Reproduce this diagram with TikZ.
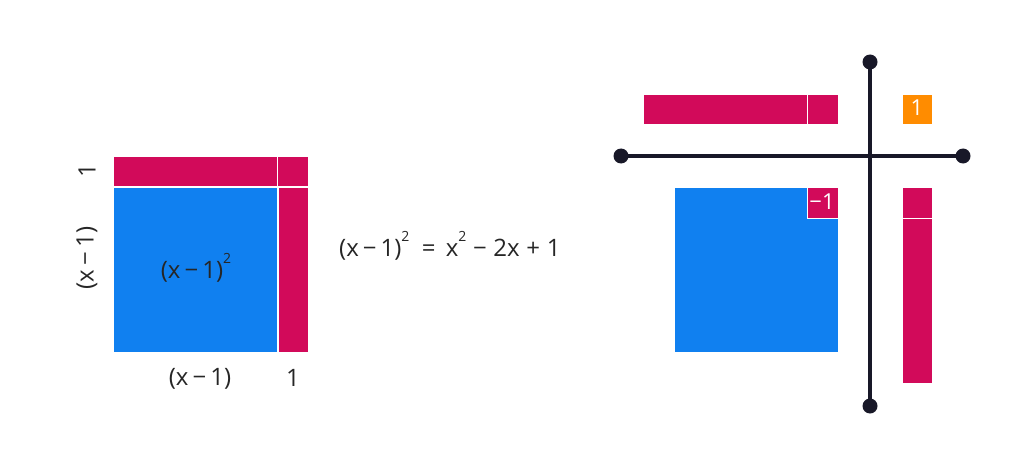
\documentclass[tikz,border=0pt]{standalone}
\usepackage{fontspec}
\setmainfont{Open Sans}
\definecolor{crim}{HTML}{D20A5A}
\definecolor{sky}{HTML}{1080F0}
\definecolor{orng}{HTML}{FF8C00}
\definecolor{ink}{HTML}{181828}
\newcommand{\sqr}{\raisebox{0.6em}{\fontsize{14}{14}\selectfont 2}}
\begin{document}
\begin{tikzpicture}[x=1pt,y=-1pt,
  redbox/.style={fill=crim,draw=white,line width=0.8pt},
  bluebox/.style={fill=sky,draw=white,line width=0.8pt},
  orangebox/.style={fill=orng,draw=white,line width=0.8pt},
  lbl/.style={font=\fontsize{24}{24}\selectfont,text=black!85,inner sep=0pt},
  small/.style={font=\fontsize{22}{22}\selectfont,text=white,inner sep=0pt},
  axis/.style={draw=ink,line width=3.6pt},
  dot/.style={circle,fill=ink,inner sep=0pt,minimum size=15pt}]
\useasboundingbox (0,0) rectangle (1025,468);
% left diagram
\draw[redbox] (113,156) rectangle (277,186);
\draw[redbox] (277,156) rectangle (308,186);
\draw[bluebox] (113,187) rectangle (277,352);
\draw[redbox] (278,187) rectangle (308,352);
\node[lbl,rotate=90] (l1) at (87,171) {1};
\node[lbl,rotate=90] (lx) at (87,258) {(x\,−\,1)};
\node[lbl] (sq) at (196,268) {(x\,−\,1)\sqr};
\node[lbl] (bx) at (200,379) {(x\,−\,1)};
\node[lbl] (b1) at (293,378) {1};
% equation
\node[lbl,anchor=west] (eq) at (339,246) {(x\,−\,1)\sqr\ \ =\ \,x\sqr\;−\;2x\;+\;1};
% right diagram
\draw[redbox] (643,94) rectangle (807,124);
\draw[redbox] (807,94) rectangle (838,124);
\draw[orangebox] (902,94) rectangle (932,124);
\node[small] (o1) at (917,108) {1};
\draw[bluebox] (674,187) rectangle (838,352);
\draw[redbox] (807,187) rectangle (838,218);
\node[small] (m1) at (822,202) {−1};
\draw[redbox] (902,187) rectangle (932,218);
\draw[redbox] (902,218) rectangle (932,383);
\node[dot] (hl) at (621,156) {};
\node[dot] (hr) at (963,156) {};
\node[dot] (vt) at (870,62) {};
\node[dot] (vb) at (870,406) {};
\draw[axis] (hl.center) -- (hr.center);
\draw[axis] (vt.center) -- (vb.center);
\end{tikzpicture}
\end{document}
